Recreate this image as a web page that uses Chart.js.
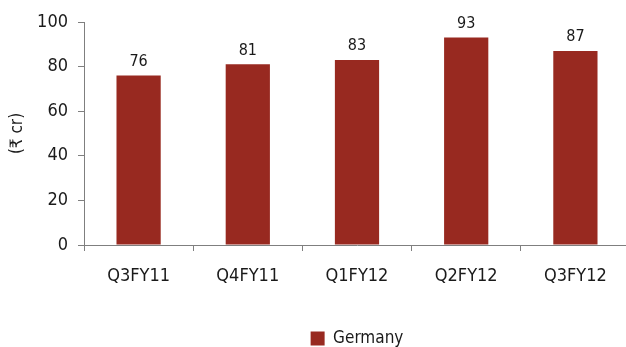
<!DOCTYPE html>
<html>
<head>
<meta charset="utf-8">
<script src="https://cdn.jsdelivr.net/npm/chart.js@4.4.1/dist/chart.umd.min.js"></script>
<style>
  html, body { margin: 0; padding: 0; background: #fff; overflow: hidden; }
  #wrap { width: 630px; height: 347px; }
</style>
</head>
<body>
<div id="wrap"><canvas id="c" width="630" height="347"></canvas></div>
<script>
// Quarterly figures for Germany, in ₹ crore
const quarters = ['Q3FY11', 'Q4FY11', 'Q1FY12', 'Q2FY12', 'Q3FY12'];
const germany = [76, 81, 83, 93, 87];
const yTicks = [0, 20, 40, 60, 80, 100];

const FONT = "'Liberation Sans Narrow', 'DejaVu Sans Condensed', 'Roboto', sans-serif";
const BAR = '#982920';
const INK = '#1a1a1a';
const AXIS = '#7f7f7f';

// Writes each bar's value just above it
const valueLabels = {
  id: 'valueLabels',
  afterDatasetsDraw(chart) {
    const ctx = chart.ctx;
    ctx.save();
    ctx.font = '16px ' + FONT;
    ctx.fillStyle = INK;
    ctx.textAlign = 'center';
    ctx.textBaseline = 'middle';
    chart.data.datasets.forEach((ds, di) => {
      chart.getDatasetMeta(di).data.forEach((bar, i) => {
        ctx.fillText(String(ds.data[i]), bar.x, bar.y - 14);
      });
    });
    ctx.restore();
  }
};

new Chart(document.getElementById('c'), {
  type: 'bar',
  data: {
    labels: quarters,
    datasets: [{
      label: 'Germany',
      data: germany,
      backgroundColor: BAR,
      borderWidth: 0,
      barPercentage: 0.405,
      categoryPercentage: 1.0
    }]
  },
  options: {
    responsive: false,
    animation: false,
    layout: { padding: { top: 22, right: 0, bottom: -10, left: 0 } },
    plugins: {
      legend: {
        position: 'bottom',
        fullSize: false,
        labels: {
          font: { family: FONT, size: 17 },
          color: INK,
          boxWidth: 14,
          boxHeight: 14,
          padding: 0
        }
      },
      tooltip: { enabled: false }
    },
    scales: {
      x: {
        grid: {
          display: true,
          drawOnChartArea: false,
          drawTicks: true,
          tickLength: 6,
          offset: true,
          color: AXIS
        },
        border: { color: AXIS, width: 1 },
        ticks: {
          font: { family: FONT, size: 18 },
          color: INK,
          padding: 15,
          maxRotation: 0
        },
        afterFit(s) { s.height = 85; }
      },
      y: {
        min: 0,
        max: 100,
        afterBuildTicks(s) { s.ticks = yTicks.map(v => ({ value: v })); },
        grid: {
          display: true,
          drawOnChartArea: false,
          drawTicks: true,
          tickLength: 6,
          color: AXIS
        },
        border: { color: AXIS, width: 1 },
        ticks: {
          font: { family: FONT, size: 18 },
          color: INK,
          padding: 10
        },
        title: {
          display: true,
          text: '(₹ cr)',
          font: { family: FONT, size: 17 },
          color: INK,
          padding: { top: 7, bottom: 0 }
        },
        afterFit(s) { s.width = 84; }
      }
    }
  },
  plugins: [valueLabels]
});
</script>
</body>
</html>
